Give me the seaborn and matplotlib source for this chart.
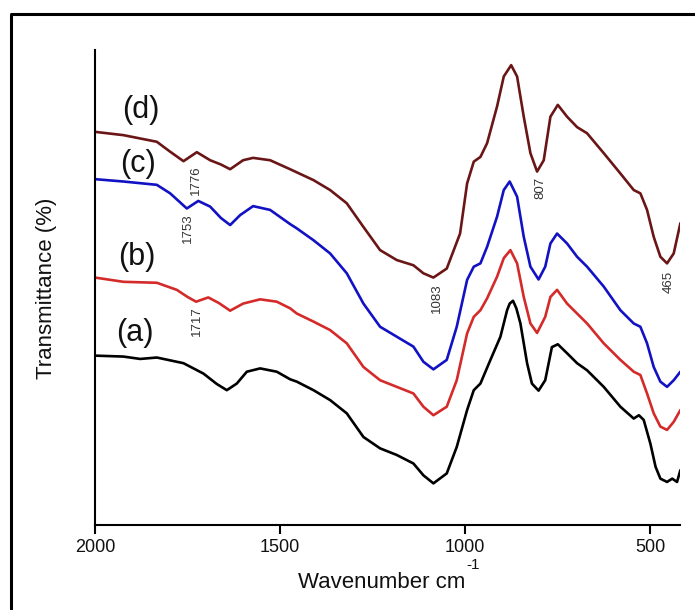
import numpy as np
import pandas as pd
import matplotlib
matplotlib.use("Agg")
import matplotlib.pyplot as plt
import seaborn as sns
from matplotlib.lines import Line2D

# ---------------- data (arbitrary transmittance units) -------------
wn_a = [2000, 1923, 1878, 1833, 1761, 1707, 1671, 1644, 1617, 1590, 1554, 1509, 1473, 1455,
        1410, 1365, 1320, 1275, 1230, 1185, 1140, 1113, 1086, 1050, 1023, 995, 977, 959, 932,
        905, 887, 880, 871, 862, 851, 833, 820, 802, 784, 766, 750, 725, 698, 671, 626, 581,
        545, 531, 518, 500, 486, 473, 455, 441, 428, 419]
t_a = [35.4, 35.2, 34.7, 35.0, 33.8, 31.6, 29.4, 28.1, 29.5, 32.0, 32.7, 32.0, 30.4, 29.9,
       28.1, 26.0, 23.2, 18.2, 15.8, 14.4, 12.6, 10.1, 8.4, 10.5, 16.1, 23.9, 28.1, 29.5, 34.5,
       39.4, 45.0, 46.4, 47.0, 45.4, 42.2, 33.8, 29.5, 28.0, 30.2, 37.2, 37.8, 35.9, 33.8, 32.3,
       28.8, 24.6, 22.1, 22.8, 21.8, 16.8, 11.9, 9.4, 8.7, 9.4, 8.7, 11.2]

wn_b = [2000, 1923, 1833, 1779, 1750, 1727, 1694, 1665, 1635, 1600, 1554, 1509, 1473, 1455,
        1410, 1365, 1320, 1275, 1230, 1185, 1140, 1113, 1086, 1050, 1023, 995, 977, 959, 941,
        914, 896, 878, 860, 842, 824, 806, 784, 770, 752, 725, 698, 671, 626, 581, 545, 527,
        509, 491, 473, 455, 437, 419]
t_b = [51.9, 51.0, 50.8, 49.3, 47.8, 46.8, 47.7, 46.5, 44.9, 46.4, 47.3, 46.8, 45.4, 44.3,
       42.6, 40.8, 38.0, 33.0, 30.2, 28.8, 27.4, 24.6, 22.8, 24.6, 30.2, 40.1, 43.6, 45.0, 47.5,
       52.1, 56.0, 57.7, 54.9, 47.8, 42.2, 40.2, 43.6, 47.8, 49.3, 46.4, 44.3, 42.2, 38.0, 34.5,
       32.0, 31.3, 27.4, 23.2, 20.4, 19.7, 21.4, 23.9]

wn_c = [2000, 1923, 1833, 1797, 1752, 1721, 1689, 1660, 1635, 1608, 1573, 1527, 1473, 1455,
        1410, 1365, 1320, 1275, 1230, 1185, 1140, 1113, 1086, 1050, 1023, 995, 977, 959, 941,
        914, 896, 880, 860, 842, 824, 802, 784, 770, 752, 725, 698, 671, 626, 581, 545, 527,
        509, 491, 473, 455, 437, 419]
t_c = [72.7, 72.2, 71.5, 69.7, 66.5, 68.1, 66.9, 64.5, 63.0, 65.1, 67.0, 66.2, 63.2, 62.3,
       59.8, 57.0, 52.8, 46.4, 41.5, 39.4, 37.3, 34.1, 32.5, 34.5, 41.5, 51.4, 54.2, 54.9, 58.4,
       64.8, 70.4, 72.2, 69.0, 60.5, 54.2, 51.5, 54.2, 59.1, 61.2, 59.1, 56.3, 54.2, 50.0, 45.0,
       42.2, 41.5, 38.0, 33.0, 29.9, 28.8, 30.2, 32.0]

wn_d = [2000, 1923, 1833, 1797, 1761, 1725, 1689, 1660, 1635, 1600, 1573, 1527, 1473, 1410,
        1365, 1320, 1275, 1230, 1185, 1140, 1113, 1086, 1050, 1014, 995, 977, 959, 941, 914,
        896, 876, 860, 842, 824, 806, 788, 770, 750, 725, 698, 671, 626, 581, 545, 527, 509,
        491, 473, 455, 437, 419]
t_d = [82.7, 82.0, 80.6, 78.5, 76.5, 78.4, 76.7, 75.8, 74.8, 76.7, 77.2, 76.7, 74.8, 72.5,
       70.4, 67.6, 62.6, 57.7, 55.6, 54.5, 52.8, 51.9, 53.8, 61.2, 71.8, 76.4, 77.4, 80.3, 88.1,
       94.4, 96.8, 94.4, 85.9, 78.2, 74.3, 76.7, 85.9, 88.4, 85.9, 83.7, 82.4, 78.2, 73.9, 70.4,
       69.7, 66.2, 60.5, 56.3, 54.9, 57.0, 63.4]

series_names = ["(a)", "(b)", "(c)", "(d)"]
series_colors = ["#000000", "#d42a2a", "#1212c4", "#6a1616"]

x_ticks = [2000, 1500, 1000, 500]

# peak annotations: label, x (wavenumber), y
peak_labels = ["1776", "1753", "1717", "1083", "807", "465"]
peak_x = [1727, 1748, 1724, 1076, 797, 450]
peak_y = [72.5, 62.3, 42.6, 47.5, 70.8, 51.0]

# curve name labels: x, y
name_x = [1892, 1887, 1883, 1876]
name_y = [40.1, 56.3, 76.0, 87.3]

# ---------------- build dataframe ----------------
frames = []
for name, wn, t in zip(series_names, [wn_a, wn_b, wn_c, wn_d], [t_a, t_b, t_c, t_d]):
    frames.append(pd.DataFrame({"wn": wn, "T": t, "sample": name}))
df = pd.concat(frames, ignore_index=True)

# ---------------- plot ----------------
sns.set_theme(style="ticks")
plt.rcParams["font.family"] = ["Liberation Sans", "DejaVu Sans"]

W, H = 695, 610
fig = plt.figure(figsize=(W / 100, H / 100), dpi=100)
ax = fig.add_axes([95 / W, 1 - 525 / H, (680 - 95) / W, (525 - 50) / H])

sns.lineplot(data=df, x="wn", y="T", hue="sample", units="sample", estimator=None,
             sort=False, palette=dict(zip(series_names, series_colors)),
             linewidth=1.9, legend=False, ax=ax)
for ln in ax.get_lines():
    ln.set_solid_joinstyle("round")
    ln.set_solid_capstyle("round")

ax.set_xlabel("")
ax.set_ylabel("")
ax.set_xlim(2000, 420)
ax.set_ylim(-0.4, 100)
ax.set_xticks(x_ticks)
ax.set_xticklabels([str(v) for v in x_ticks], fontsize=13, color="#111111")
ax.set_yticks([])
ax.tick_params(axis="x", direction="out", length=6.5, width=1.5, color="black", pad=3.5)
for s in ["top", "right"]:
    ax.spines[s].set_visible(False)
for s in ["left", "bottom"]:
    ax.spines[s].set_color("black")
    ax.spines[s].set_linewidth(1.5)

# axis titles
fig.text(46.7 / W, 1 - 288 / H, "Transmittance (%)", rotation=90, fontsize=16,
         ha="center", va="center", color="#111111")
xl = fig.text(382 / W, 1 - 588 / H, "Wavenumber cm", fontsize=16,
              ha="center", va="baseline", color="#111111")
fig.canvas.draw()
bb = xl.get_window_extent(renderer=fig.canvas.get_renderer())
fig.text((bb.x1 + 0.5) / W, 1 - 569 / H, "-1", fontsize=11, ha="left", va="baseline",
         color="#111111")

for lab, x, y in zip(series_names, name_x, name_y):
    ax.text(x, y, lab, fontsize=22, ha="center", va="center", color="#111111")

for lab, x, y in zip(peak_labels, peak_x, peak_y):
    ax.text(x, y, lab, fontsize=9.5, rotation=90, ha="center", va="center", color="#333333")

# outer frame (left and top edges visible in reference)
fig.add_artist(Line2D([11 / W, 11 / W, 1.0], [0.0, 1 - 14 / H, 1 - 14 / H],
                      transform=fig.transFigure, color="black", linewidth=2.2))

fig.savefig("out.png", dpi=100, facecolor="white")
